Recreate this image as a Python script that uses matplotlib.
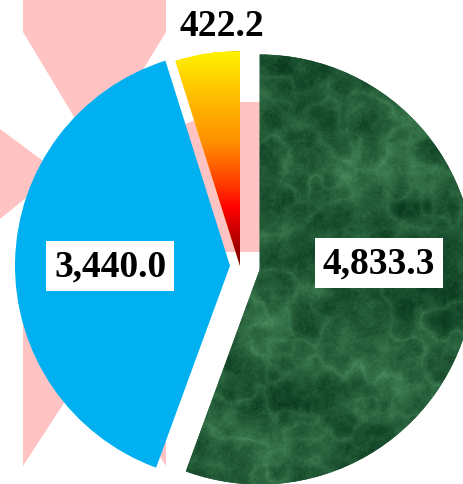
import numpy as np
import matplotlib.pyplot as plt
from matplotlib.patches import Polygon
from matplotlib.colors import LinearSegmentedColormap

plt.rcParams['font.family'] = ['Liberation Serif', 'DejaVu Serif']

# slice values, clockwise from 12 o'clock
values = [4833.3, 3440.0, 422.2]
labels = ['4,833.3', '3,440.0', '422.2']

W, H = 464, 485
fig = plt.figure(figsize=(W / 100, H / 100), dpi=100)
ax = fig.add_axes([0, 0, 1, 1])

def flip(pts):
    # pixel coords (y down) -> data coords (y up)
    return [(x, H - y) for x, y in pts]

def hash2(i, j):
    return np.modf(np.abs(np.sin(i * 127.1 + j * 311.7)) * 43758.5453)[0]

def value_noise(xs, ys, s):
    gx, gy = xs / s, ys / s
    i0, j0 = np.floor(gx), np.floor(gy)
    fx, fy = gx - i0, gy - j0
    fx = fx * fx * (3 - 2 * fx)
    fy = fy * fy * (3 - 2 * fy)
    a = hash2(i0, j0)
    b = hash2(i0 + 1, j0)
    c = hash2(i0, j0 + 1)
    d = hash2(i0 + 1, j0 + 1)
    return (a * (1 - fx) + b * fx) * (1 - fy) + (c * (1 - fx) + d * fx) * fy

# faint pink shapes behind the pie
pink = '#ffc3c3'
bg_shapes = [
    [(23, 0), (166, 0), (166, 33), (94, 151), (23, 33)],
    [(0, 130), (58, 173), (0, 220)],
    [(23, 300), (166, 300), (166, 467), (94, 358), (23, 467)],
    [(150, 140), (185, 125), (240, 103), (262, 103), (262, 253), (150, 253)],
]
for shp in bg_shapes:
    ax.add_patch(Polygon(flip(shp), closed=True, facecolor=pink, edgecolor='none', zorder=0))

radius = 215
center = (240, H - 267)
# explode is in data units (pixels here)
wedges, _ = ax.pie(values, colors=['#1d4f31', '#00b0f0', '#ffcc00'], startangle=90,
                   counterclock=False, radius=radius, center=center,
                   explode=[20, 10, 0], wedgeprops=dict(linewidth=0))

# green marble texture
xs, ys = np.meshgrid(np.arange(0, 300, dtype=float), np.arange(0, 460, dtype=float))
fbm = (value_noise(xs, ys, 45) * 0.45 + value_noise(xs + 11, ys, 20) * 0.25
       + value_noise(xs, ys + 5, 9) * 0.18 + value_noise(xs, ys, 4) * 0.12)
ridge = np.exp(-np.abs(value_noise(xs + 7, ys + 3, 34) * 0.6
                       + value_noise(xs, ys, 14) * 0.4 - 0.5) * 9)
grain = value_noise(xs, ys, 1.7)
t = np.clip((fbm - 0.32) * 0.85 + ridge * 0.28 + grain * 0.14, 0, 1)
dark = np.array([0.04, 0.23, 0.12])
light = np.array([0.34, 0.62, 0.42])
tex = dark + (light - dark) * t[..., None]
gw = wedges[0]
im = ax.imshow(tex, extent=(175, 475, -5, 455), origin='lower', zorder=2,
               interpolation='bilinear', aspect='auto')
im.set_clip_path(gw)

# yellow -> red gradient slice
grad_cmap = LinearSegmentedColormap.from_list('fire', [
    (0.0, '#7a0000'), (0.1, '#a80000'), (0.27, '#ff0000'), (0.38, '#ff3a00'),
    (0.58, '#ff9000'), (0.82, '#ffc400'), (1.0, '#fff200')])
ygrad = np.linspace(0, 1, 256)[:, None]
yw = wedges[2]
im2 = ax.imshow(ygrad, cmap=grad_cmap, extent=(170, 245, H - 267, H - 53), origin='lower',
                aspect='auto', zorder=2)
im2.set_clip_path(yw)

# labels: (fraction of radius, angle in degrees) from each slice's own centre
label_pos = [(0.556, 3), (0.558, 180), (1.12, 94.3)]
for w, txt, (d, a) in zip(wedges, labels, label_pos):
    cx, cy = w.center
    x = cx + d * radius * np.cos(np.radians(a))
    y = cy + d * radius * np.sin(np.radians(a))
    box = None
    if d < 1:
        box = dict(boxstyle='square,pad=0.2', facecolor='white', edgecolor='none')
    ax.text(x, y, txt, ha='center', va='center', fontsize=27, fontweight='bold',
            color='black', bbox=box, zorder=5)

ax.set_xlim(0, W)
ax.set_ylim(0, H)
ax.set_aspect('equal')
ax.axis('off')

fig.savefig('out.png', dpi=100)
